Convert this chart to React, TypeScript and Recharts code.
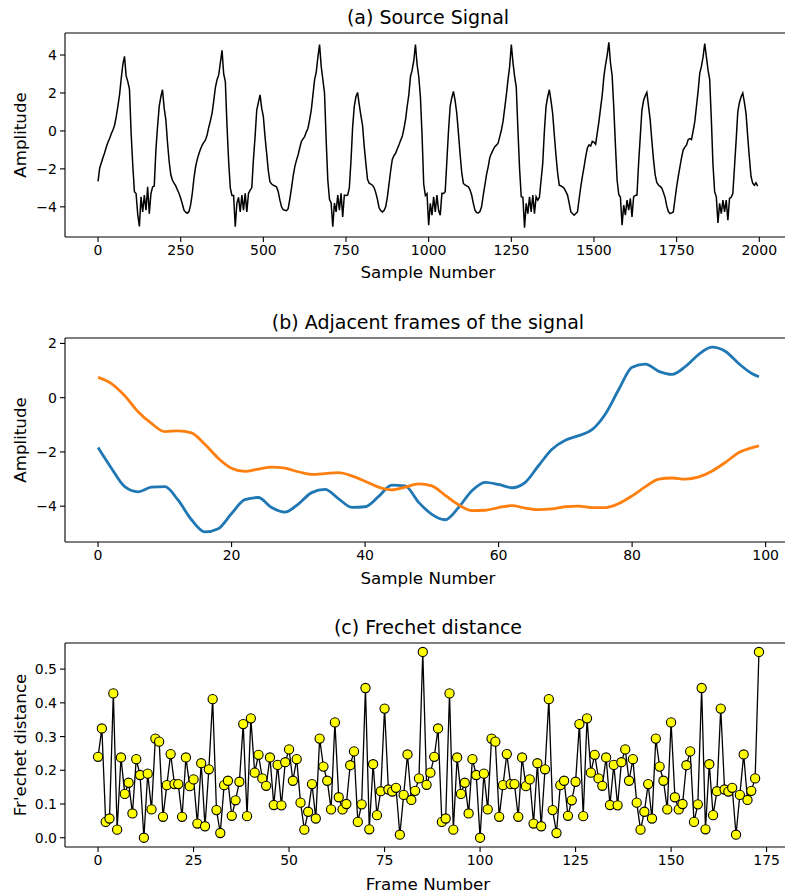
import { LineChart, Line, XAxis, YAxis, ReferenceLine } from 'recharts';

// (a) source signal, one value every 5 samples (0..1995)
const SOURCE_STEP = 5;
const sourceAmplitude = [
  -2.66, -1.95, -1.68, -1.4, -1.15, -0.85, -0.6, -0.4, -0.15, 0.05, 0.3, 0.75, 1.3, 1.9, 2.75, 3.5, 3.93, 2.9, 2.6, 2.2,
  -0.1, -1.8, -3.2, -3.3, -4.4, -5.03, -3.47, -4.27, -3.38, -4.18, -2.95, -4.36, -3.3, -2.95, -2.9, -1.0, 0.23, 1.29, 1.8, 2.17,
  1.2, 0.6, -0.6, -1.6, -2.3, -2.6, -2.75, -2.9, -3.1, -3.3, -3.55, -3.85, -4.18, -4.28, -4.34, -4.25, -3.9, -3.3, -2.5, -1.9,
  -1.5, -1.2, -0.95, -0.75, -0.6, -0.48, -0.2, 0.2, 0.55, 0.94, 1.6, 2.3, 2.7, 2.95, 3.6, 4.25, 3.0, 2.6, 0.3, -1.6,
  -3.0, -3.4, -3.4, -5.05, -3.8, -3.5, -4.27, -3.38, -4.18, -3.29, -4.27, -3.29, -3.12, -3.0, -1.5, -0.3, 1.1, 1.5, 1.9, 1.2,
  0.76, -0.3, -1.18, -2.1, -2.68, -2.8, -2.86, -2.9, -2.95, -3.2, -3.65, -4.0, -4.15, -4.18, -4.2, -4.1, -3.6, -3.03, -2.4, -1.89,
  -1.55, -1.27, -0.9, -0.56, -0.42, -0.3, -0.05, 0.14, 0.6, 1.11, 1.9, 2.7, 3.1, 3.9, 4.55, 3.4, 2.7, 2.0, -0.48, -2.6,
  -3.6, -3.8, -5.05, -3.8, -4.27, -3.38, -4.18, -3.29, -4.53, -3.38, -3.4, -3.38, -3.0, -1.6, 0.2, 1.29, 1.8, 2.03, 1.4, 0.8,
  0.3, -0.8, -1.7, -2.55, -2.75, -2.8, -2.86, -3.0, -3.25, -3.6, -4.05, -4.2, -4.27, -4.2, -4.0, -3.5, -2.8, -2.1, -1.5, -1.3,
  -1.18, -0.95, -0.74, -0.5, -0.3, 0.1, 0.6, 1.29, 1.9, 2.87, 3.2, 3.7, 4.55, 3.5, 2.87, 1.8, -0.2, -2.8, -3.4, -3.3,
  -4.97, -3.82, -4.44, -3.47, -4.27, -3.38, -4.18, -4.44, -3.29, -3.3, -3.2, -1.6, 0.0, 1.3, 1.75, 2.08, 1.6, 0.93, -0.1, -1.2,
  -2.2, -2.77, -2.85, -2.9, -2.95, -3.1, -3.38, -3.8, -4.18, -4.3, -4.32, -4.25, -4.0, -3.4, -2.86, -2.3, -1.89, -1.4, -1.18, -1.0,
  -0.83, -0.75, -0.65, -0.3, 0.05, 0.5, 1.2, 1.9, 2.7, 3.4, 4.55, 3.6, 2.87, 2.3, 0.05, -2.0, -3.47, -3.5, -5.1, -3.82,
  -4.36, -3.47, -4.27, -3.38, -4.36, -3.47, -3.65, -3.5, -2.6, -1.71, 0.0, 1.29, 1.8, 2.17, 1.6, 0.93, -0.2, -1.27, -2.2, -2.86,
  -2.9, -2.95, -3.03, -3.2, -3.38, -3.8, -4.27, -4.35, -4.44, -4.35, -4.27, -3.6, -2.95, -2.4, -1.9, -1.36, -0.9, -0.74, -0.8, -0.55,
  -0.6, -0.7, -0.1, 0.5, 1.2, 1.9, 2.87, 3.5, 4.0, 4.67, 3.58, 2.9, 1.2, -0.8, -2.6, -3.35, -3.5, -4.97, -3.91, -4.44,
  -3.65, -4.18, -3.56, -4.53, -3.47, -3.4, -3.38, -1.7, -0.3, 1.1, 1.6, 1.85, 2.03, 1.3, 0.6, -0.5, -1.5, -2.3, -2.72, -2.85,
  -2.92, -3.0, -3.25, -3.5, -3.95, -4.25, -4.36, -4.32, -4.27, -3.6, -2.95, -2.4, -1.89, -1.4, -1.0, -0.85, -0.74, -0.45, -0.4, -0.45,
  0.0, 0.5, 1.3, 2.1, 3.05, 3.4, 3.9, 4.6, 3.9, 3.2, 2.7, 0.6, -1.8, -3.2, -3.47, -4.85, -3.82, -4.36, -3.65, -4.27,
  -3.65, -4.71, -3.56, -3.5, -3.3, -1.9, -0.5, 1.0, 1.5, 1.8, 2.0, 1.5, 0.9, -0.3, -1.4, -2.4, -2.75, -2.86, -2.73, -2.91,
];

// (b) two adjacent frames
const frameSamples = [
  0, 2, 4, 6, 8, 10, 12, 14, 16, 18, 20, 22, 24, 26, 28, 30, 32, 34, 36, 38, 40, 42, 44, 46, 48,
  50, 52, 54, 56, 58, 60, 62, 64, 66, 68, 70, 72, 74, 76, 78, 80, 82, 84, 86, 88, 90, 92, 94, 96, 98, 99,
];
const frameA = [
  -1.84, -2.6, -3.28, -3.47, -3.3, -3.28, -3.78, -4.5, -4.95, -4.83, -4.27, -3.76, -3.68, -4.05, -4.22, -3.92, -3.5, -3.38, -3.72, -4.04,
  -4.02, -3.65, -3.22, -3.25, -3.85, -4.3, -4.5, -4.05, -3.43, -3.12, -3.2, -3.32, -3.12, -2.5, -1.9, -1.57, -1.4, -1.18, -0.6, 0.3,
  1.12, 1.24, 0.97, 0.86, 1.15, 1.6, 1.86, 1.7, 1.25, 0.88, 0.77,
];
const frameB = [
  0.75, 0.52, 0.07, -0.52, -0.95, -1.25, -1.22, -1.3, -1.72, -2.23, -2.6, -2.72, -2.63, -2.56, -2.6, -2.73, -2.83, -2.8, -2.76, -2.88,
  -3.08, -3.3, -3.4, -3.3, -3.18, -3.25, -3.6, -3.95, -4.16, -4.15, -4.05, -3.98, -4.07, -4.13, -4.1, -4.02, -4.0, -4.05, -4.05, -3.9,
  -3.62, -3.28, -3.0, -2.96, -3.0, -2.92, -2.7, -2.38, -2.02, -1.84, -1.78,
];

// (c) Frechet distance per frame (0..173)
const frechetDistance = [
  0.240, 0.324, 0.047, 0.057, 0.428, 0.024, 0.238, 0.130, 0.163, 0.072,
  0.233, 0.186, 0.000, 0.190, 0.084, 0.294, 0.285, 0.062, 0.156, 0.248,
  0.159, 0.159, 0.062, 0.238, 0.153, 0.173, 0.042, 0.221, 0.034, 0.203,
  0.411, 0.082, 0.014, 0.156, 0.169, 0.065, 0.111, 0.166, 0.337, 0.064,
  0.354, 0.193, 0.246, 0.176, 0.154, 0.238, 0.097, 0.216, 0.096, 0.224,
  0.262, 0.169, 0.233, 0.104, 0.024, 0.077, 0.159, 0.057, 0.294, 0.211,
  0.169, 0.084, 0.342, 0.120, 0.084, 0.100, 0.215, 0.256, 0.047, 0.099,
  0.444, 0.025, 0.218, 0.067, 0.138, 0.383, 0.143, 0.137, 0.148, 0.009,
  0.127, 0.247, 0.112, 0.139, 0.176, 0.551, 0.157, 0.193,
  0.240, 0.324, 0.047, 0.057, 0.428, 0.024, 0.238, 0.130, 0.163, 0.072,
  0.233, 0.186, 0.000, 0.190, 0.084, 0.294, 0.285, 0.062, 0.156, 0.248,
  0.159, 0.159, 0.062, 0.238, 0.153, 0.173, 0.042, 0.221, 0.034, 0.203,
  0.411, 0.082, 0.014, 0.156, 0.169, 0.065, 0.111, 0.166, 0.337, 0.064,
  0.354, 0.193, 0.246, 0.176, 0.154, 0.238, 0.097, 0.216, 0.096, 0.224,
  0.262, 0.169, 0.233, 0.104, 0.024, 0.077, 0.159, 0.057, 0.294, 0.211,
  0.169, 0.084, 0.342, 0.120, 0.084, 0.100, 0.215, 0.256, 0.047, 0.099,
  0.444, 0.025, 0.218, 0.067, 0.138, 0.383, 0.143, 0.137, 0.148, 0.009,
  0.127, 0.247, 0.112, 0.139, 0.176, 0.551,
];

const sourceTicksX = [0, 250, 500, 750, 1000, 1250, 1500, 1750, 2000];
const sourceTicksY = [-4, -2, 0, 2, 4];
const frameTicksX = [0, 20, 40, 60, 80, 100];
const frameTicksY = [-4, -2, 0, 2];
const frechetTicksX = [0, 25, 50, 75, 100, 125, 150, 175];
const frechetTicksY = [0, 0.1, 0.2, 0.3, 0.4, 0.5];

const FONT = '"DejaVu Sans", sans-serif';
const CHART_W = 800;
const PLOT_H = 204;
const tickStyle = { fill: '#000', fontSize: 14, fontFamily: FONT };
const axisStyle = { stroke: '#000', strokeWidth: 1.1 };
const minus = (v: number) => String(v).replace('-', '\u2212');

const sourceData = sourceAmplitude.map((y, i) => ({ x: i * SOURCE_STEP, y }));
const frameData = frameSamples.map((x, i) => ({ x, a: frameA[i], b: frameB[i] }));
const frechetData = frechetDistance.map((y, i) => ({ x: i, y }));

function Title({ text, y, size = 19 }: { text: string; y: number; size?: number }) {
  return (
    <div style={{ position: 'absolute', left: 128, width: 600, top: y - size / 2, lineHeight: `${size}px`,
      fontSize: size, fontFamily: FONT, textAlign: 'center', color: '#000', whiteSpace: 'nowrap' }}>
      {text}
    </div>
  );
}

function YTitle({ text, cy }: { text: string; cy: number }) {
  return (
    <div style={{ position: 'absolute', left: 20 - 150, width: 300, top: cy - 9, lineHeight: '18px',
      fontSize: 16.7, fontFamily: FONT, textAlign: 'center', color: '#000', transform: 'rotate(-90deg)', whiteSpace: 'nowrap' }}>
      {text}
    </div>
  );
}

function axes(xDomain: number[], xTicks: number[], yDomain: number[], yTicks: number[], fmtY: (v: number) => string) {
  return [
    <XAxis key="x" dataKey="x" type="number" domain={xDomain} ticks={xTicks} allowDataOverflow interval={0}
      tick={tickStyle} tickLine={axisStyle} axisLine={axisStyle} tickSize={5} tickMargin={3} height={40}
      tickFormatter={minus} />,
    <YAxis key="y" type="number" domain={yDomain} ticks={yTicks} allowDataOverflow interval={0} width={65}
      tick={tickStyle} tickLine={axisStyle} axisLine={axisStyle} tickSize={5} tickMargin={3}
      tickFormatter={fmtY} />,
    <ReferenceLine key="top" y={yDomain[1]} stroke="#000" strokeWidth={1.1} />,
    <ReferenceLine key="right" x={xDomain[1]} stroke="#000" strokeWidth={1.1} />,
  ];
}

export default function App() {
  const margin = { top: 10, right: 8, bottom: 0, left: 0 };
  const h = PLOT_H + 50;
  return (
    <div style={{ position: 'absolute', left: 0, top: 0, width: 785, height: 895, overflow: 'hidden', background: '#fff' }}>
      <Title text="(a) Source Signal" y={17} />
      <Title text="(b) Adjacent frames of the signal" y={322} />
      <Title text="(c) Frechet distance" y={627} />

      <YTitle text="Amplitude" cy={135} />
      <YTitle text="Amplitude" cy={440} />
      <YTitle text="Fr'echet distance" cy={745} />

      <div style={{ position: 'absolute', left: 0, top: 33 - 10 }}>
        <LineChart width={CHART_W} height={h} data={sourceData} margin={margin}>
          {axes([-99.95, 2098.95], sourceTicksX, [-5.59, 5.16], sourceTicksY, minus)}
          <Line dataKey="y" type="linear" stroke="#000" strokeWidth={1.5} dot={false} isAnimationActive={false} />
        </LineChart>
      </div>
      <Title text="Sample Number" y={272} size={16.7} />

      <div style={{ position: 'absolute', left: 0, top: 338 - 10 }}>
        <LineChart width={CHART_W} height={h} data={frameData} margin={margin}>
          {axes([-4.95, 103.95], frameTicksX, [-5.32, 2.2], frameTicksY, minus)}
          <Line dataKey="a" type="monotone" stroke="#1f77b4" strokeWidth={2.8} dot={false} isAnimationActive={false} />
          <Line dataKey="b" type="monotone" stroke="#ff7f0e" strokeWidth={2.8} dot={false} isAnimationActive={false} />
        </LineChart>
      </div>
      <Title text="Sample Number" y={578} size={16.7} />

      <div style={{ position: 'absolute', left: 0, top: 643 - 10 }}>
        <LineChart width={CHART_W} height={h} data={frechetData} margin={margin}>
          {axes([-8.65, 181.65], frechetTicksX, [-0.0275, 0.5775], frechetTicksY, (v: number) => v.toFixed(1))}
          <Line dataKey="y" type="linear" stroke="#000" strokeWidth={1.3}
            dot={{ r: 4.6, fill: '#ffff00', stroke: '#000', strokeWidth: 1.1 }} isAnimationActive={false} />
        </LineChart>
      </div>
      <Title text="Frame Number" y={884} size={16.7} />
    </div>
  );
}
